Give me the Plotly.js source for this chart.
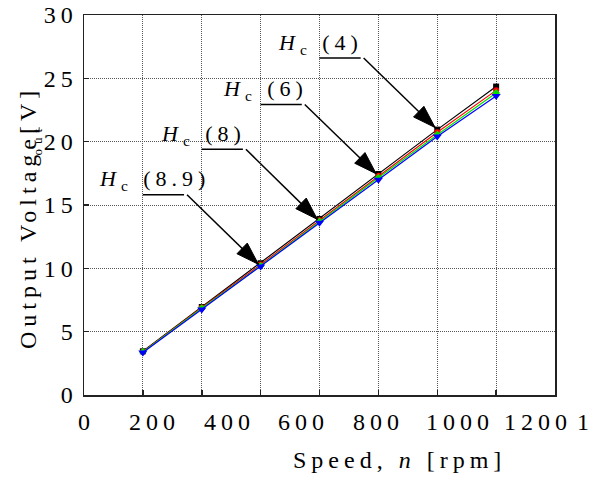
<!DOCTYPE html>
<html>
<head>
<meta charset="utf-8">
<script src="https://cdn.plot.ly/plotly-3.0.1.min.js"></script>
<style>
  html, body { margin: 0; padding: 0; background: #fff; }
  #chart { width: 602px; height: 483px; }
  svg text { letter-spacing: 5px; font-family: "Liberation Serif", "Times New Roman", "DejaVu Serif", serif !important; }
</style>
</head>
<body>
<div id="chart"></div>
<script>
// ---- data ----
const speed = [200, 400, 600, 800, 1000, 1200, 1400];
const vHc4  = [3.45, 6.95, 10.4, 13.9, 17.45, 20.95, 24.35];
const vHc6  = [3.42, 6.90, 10.3, 13.8, 17.30, 20.75, 24.05];
const vHc8  = [3.40, 6.85, 10.2, 13.7, 17.15, 20.55, 23.85];
const vHc89 = [3.35, 6.75, 10.15, 13.6, 17.00, 20.40, 23.60];
const seriesNames = ['Hc(4)', 'Hc(6)', 'Hc(8)', 'Hc(8.9)'];
const calloutLabels = ['(4)', '(6)', '(8)', '(8.9)'];
const yTickVals = [0, 5, 10, 15, 20, 25, 30];
const xTickLabels = ['0', '200', '400', '600', '800', '1000', '1200', '1'];
const xTickLabelPos = [7, 241, 493, 744, 999, 1277, 1542, 1702];
const xMax = 1600;

const serif = '"Liberation Serif", "Times New Roman", serif';
const colors = ['#000000', '#ff0000', '#00e000', '#0000ff'];
const symbols = ['square', 'circle', 'diamond', 'triangle-down'];
const sizes = [6, 6, 6, 8];
const allV = [vHc4, vHc6, vHc8, vHc89];

const traces = allV.map((v, i) => ({
  x: speed, y: v, type: 'scatter', mode: 'lines+markers', name: seriesNames[i],
  line: {color: colors[i], width: 1.2},
  marker: {color: colors[i], symbol: symbols[i], size: sizes[i]}
}));

// callout geometry (annotation placement)
const callTargetIdx = [5, 4, 3, 2];           // point each arrow points at
const callLevel = [26.6, 22.93, 19.4, 15.81];  // underline heights
const callTextPos = [[803, 27.71], [615, 24.04], [406, 20.56], [241, 16.96]];

const annotations = [];
for (let i = 0; i < 4; i++) {
  const k = callTargetIdx[i];
  const x0 = speed[k - 2];
  const x1 = x0 + 150;
  traces.push({
    x: [x0, x1, speed[k]], y: [callLevel[i], callLevel[i], allV[i][k]],
    type: 'scatter', mode: 'lines+markers', hoverinfo: 'skip', showlegend: false,
    line: {color: '#000', width: 1.5},
    marker: {symbol: ['circle', 'circle', 'arrow'], size: [0, 0, 24], color: '#000',
      opacity: 1, angleref: 'previous', standoff: 3, line: {width: 1, color: '#000'}}
  });
  annotations.push({x: callTextPos[i][0], y: callTextPos[i][1], xref: 'x', yref: 'y',
    text: '<i>H</i><sub>c</sub> ' + calloutLabels[i], showarrow: false,
    xanchor: 'center', yanchor: 'middle', font: {family: serif, size: 22, color: '#000'}});
}
xTickLabels.forEach((t, i) => {
  annotations.push({x: xTickLabelPos[i] / xMax, y: 0, xref: 'paper', yref: 'paper', text: t,
    showarrow: false, xanchor: 'center', yanchor: 'top', yshift: -12,
    font: {family: serif, size: 24, color: '#000'}});
});
annotations.push({x: 0.669, y: 0, xref: 'paper', yref: 'paper', text: 'Speed, <i>n</i> [rpm]',
  showarrow: false, xanchor: 'center', yanchor: 'top', yshift: -50,
  font: {family: serif, size: 24, color: '#000'}});
annotations.push({x: -0.119, y: 0.468, xref: 'paper', yref: 'paper', text: 'Output Voltage[V]',
  showarrow: false, textangle: -90, xanchor: 'center', yanchor: 'middle',
  font: {family: serif, size: 24, color: '#000'}});
annotations.push({x: -0.098, y: 0.672, xref: 'paper', yref: 'paper', text: 'out',
  showarrow: false, textangle: -90, xanchor: 'center', yanchor: 'middle',
  font: {family: serif, size: 13, color: '#000'}});

const layout = {
  width: 602, height: 483,
  margin: {l: 84, r: 47, t: 15, b: 88},
  paper_bgcolor: '#fff', plot_bgcolor: '#fff',
  showlegend: false,
  font: {family: serif, size: 24, color: '#000'},
  xaxis: {range: [0, xMax], dtick: 200, tick0: 0, showticklabels: false,
    showgrid: true, gridcolor: '#555', griddash: '1px,1px', gridwidth: 1,
    zeroline: false, showline: true, linecolor: '#222', linewidth: 1.5, mirror: true,
    ticks: 'inside', ticklen: 5, tickwidth: 1.5, tickcolor: '#222'},
  yaxis: {range: [0, 30], tickvals: yTickVals, ticktext: yTickVals.map(String),
    showgrid: true, gridcolor: '#555', griddash: '1px,1px', gridwidth: 1,
    zeroline: false, showline: true, linecolor: '#222', linewidth: 1.5, mirror: true,
    ticks: 'inside', ticklen: 5, tickwidth: 1.5, tickcolor: '#222',
    tickfont: {family: serif, size: 24, color: '#000'}},
  annotations: annotations
};

Plotly.newPlot('chart', traces, layout, {staticPlot: true, displayModeBar: false});
</script>
</body>
</html>
